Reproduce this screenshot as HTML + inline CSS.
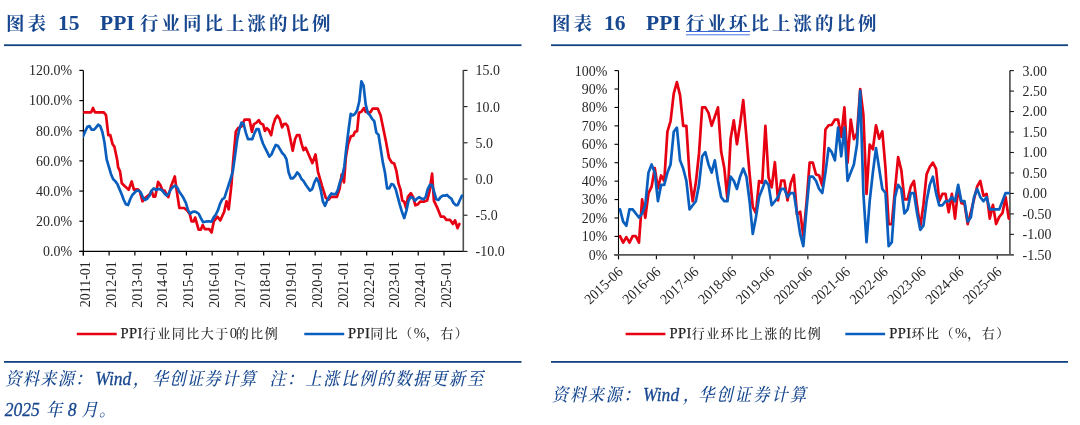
<!DOCTYPE html>
<html lang="zh-CN"><head><meta charset="utf-8"><title>PPI</title>
<style>
html,body{margin:0;padding:0;background:#fff;}
body{width:1080px;height:425px;overflow:hidden;position:relative;}
svg{position:absolute;left:0;top:0;display:block;will-change:transform;}
.ax{font-family:"Liberation Serif","Noto Serif CJK SC",serif;font-size:14.6px;fill:#262626;}
.lg{font-family:"Liberation Serif","Noto Serif CJK SC",serif;font-size:14.6px;fill:#262626;}
.lgp{letter-spacing:0.35px;stroke:#262626;stroke-width:0.25px;}
.lg0{font-size:14.6px;}
.lgc{font-family:"Liberation Serif","Noto Serif CJK SC",serif;font-size:13px;font-weight:500;letter-spacing:1.5px;}
.ti{font-family:"Liberation Serif","Noto Serif CJK SC",serif;font-weight:700;font-size:21.5px;fill:#17478f;}
.tic{font-family:"Liberation Serif","Noto Serif CJK SC",serif;font-weight:700;font-size:18.5px;fill:#17478f;letter-spacing:3px;}
.src{font-family:"Liberation Serif","Noto Serif CJK SC",serif;font-style:italic;font-size:19.5px;fill:#17478f;stroke:#17478f;stroke-width:0.3px;}
.srcc{font-family:"Liberation Serif","Noto Serif CJK SC",serif;font-style:italic;font-weight:500;font-size:18px;fill:#17478f;}
</style></head><body>
<svg width="1080" height="425" viewBox="0 0 1080 425">
<rect width="1080" height="425" fill="#fff"/>
<text class="tic" x="6" y="30">图表</text>
<text class="ti" x="58" y="30">15</text>
<text class="ti" x="100" y="30">PPI</text>
<text class="tic" x="140" y="30">行业同比上涨的比例</text>
<rect x="4" y="44.3" width="517.5" height="1.8" fill="#15437f"/>
<text class="tic" x="552" y="30">图表</text>
<text class="ti" x="604" y="30">16</text>
<text class="ti" x="646" y="30">PPI</text>
<text class="tic" x="686" y="30">行业环比上涨的比例</text>
<rect x="686" y="31" width="64" height="1" fill="#3565d8"/>
<rect x="686" y="34" width="64" height="1.4" fill="#7c9cec"/>
<rect x="551" y="44.3" width="517" height="1.8" fill="#15437f"/>
<g stroke="#000" stroke-width="1.2" fill="none">
<line x1="83.35" y1="70.40" x2="83.35" y2="255.40"/>
<line x1="79.35" y1="251.40" x2="463.80" y2="251.40"/>
<line x1="79.35" y1="251.40" x2="83.35" y2="251.40"/>
<line x1="79.35" y1="221.23" x2="83.35" y2="221.23"/>
<line x1="79.35" y1="191.07" x2="83.35" y2="191.07"/>
<line x1="79.35" y1="160.90" x2="83.35" y2="160.90"/>
<line x1="79.35" y1="130.73" x2="83.35" y2="130.73"/>
<line x1="79.35" y1="100.57" x2="83.35" y2="100.57"/>
<line x1="79.35" y1="70.40" x2="83.35" y2="70.40"/>
<line x1="83.35" y1="251.40" x2="83.35" y2="255.40"/>
<line x1="109.11" y1="251.40" x2="109.11" y2="255.40"/>
<line x1="134.87" y1="251.40" x2="134.87" y2="255.40"/>
<line x1="160.63" y1="251.40" x2="160.63" y2="255.40"/>
<line x1="186.39" y1="251.40" x2="186.39" y2="255.40"/>
<line x1="212.15" y1="251.40" x2="212.15" y2="255.40"/>
<line x1="237.91" y1="251.40" x2="237.91" y2="255.40"/>
<line x1="263.67" y1="251.40" x2="263.67" y2="255.40"/>
<line x1="289.42" y1="251.40" x2="289.42" y2="255.40"/>
<line x1="315.18" y1="251.40" x2="315.18" y2="255.40"/>
<line x1="340.94" y1="251.40" x2="340.94" y2="255.40"/>
<line x1="366.70" y1="251.40" x2="366.70" y2="255.40"/>
<line x1="392.46" y1="251.40" x2="392.46" y2="255.40"/>
<line x1="418.22" y1="251.40" x2="418.22" y2="255.40"/>
<line x1="443.98" y1="251.40" x2="443.98" y2="255.40"/>
</g>
<line x1="463.30" y1="69.90" x2="463.30" y2="251.40" stroke="#4d4d4d" stroke-width="1.6"/>
<g stroke="#1a1a1a" stroke-width="1.1" fill="none">
<line x1="463.80" y1="251.40" x2="467.50" y2="251.40"/>
<line x1="463.80" y1="215.20" x2="467.50" y2="215.20"/>
<line x1="463.80" y1="179.00" x2="467.50" y2="179.00"/>
<line x1="463.80" y1="142.80" x2="467.50" y2="142.80"/>
<line x1="463.80" y1="106.60" x2="467.50" y2="106.60"/>
<line x1="463.80" y1="70.40" x2="467.50" y2="70.40"/>
</g>
<text class="ax" transform="translate(72,256.30) scale(0.955,1)" text-anchor="end">0.0%</text>
<text class="ax" transform="translate(72,226.13) scale(0.955,1)" text-anchor="end">20.0%</text>
<text class="ax" transform="translate(72,195.97) scale(0.955,1)" text-anchor="end">40.0%</text>
<text class="ax" transform="translate(72,165.80) scale(0.955,1)" text-anchor="end">60.0%</text>
<text class="ax" transform="translate(72,135.63) scale(0.955,1)" text-anchor="end">80.0%</text>
<text class="ax" transform="translate(72,105.47) scale(0.955,1)" text-anchor="end">100.0%</text>
<text class="ax" transform="translate(72,75.30) scale(0.955,1)" text-anchor="end">120.0%</text>
<text class="ax" transform="translate(475.6,256.30) scale(0.955,1)">-10.0</text>
<text class="ax" transform="translate(475.6,220.10) scale(0.955,1)">-5.0</text>
<text class="ax" transform="translate(475.6,183.90) scale(0.955,1)">0.0</text>
<text class="ax" transform="translate(475.6,147.70) scale(0.955,1)">5.0</text>
<text class="ax" transform="translate(475.6,111.50) scale(0.955,1)">10.0</text>
<text class="ax" transform="translate(475.6,75.30) scale(0.955,1)">15.0</text>
<text class="ax" transform="translate(90.15,261.20) rotate(-90) scale(0.955,1)" text-anchor="end">2011-01</text>
<text class="ax" transform="translate(115.91,261.20) rotate(-90) scale(0.955,1)" text-anchor="end">2012-01</text>
<text class="ax" transform="translate(141.67,261.20) rotate(-90) scale(0.955,1)" text-anchor="end">2013-01</text>
<text class="ax" transform="translate(167.43,261.20) rotate(-90) scale(0.955,1)" text-anchor="end">2014-01</text>
<text class="ax" transform="translate(193.19,261.20) rotate(-90) scale(0.955,1)" text-anchor="end">2015-01</text>
<text class="ax" transform="translate(218.95,261.20) rotate(-90) scale(0.955,1)" text-anchor="end">2016-01</text>
<text class="ax" transform="translate(244.71,261.20) rotate(-90) scale(0.955,1)" text-anchor="end">2017-01</text>
<text class="ax" transform="translate(270.47,261.20) rotate(-90) scale(0.955,1)" text-anchor="end">2018-01</text>
<text class="ax" transform="translate(296.22,261.20) rotate(-90) scale(0.955,1)" text-anchor="end">2019-01</text>
<text class="ax" transform="translate(321.98,261.20) rotate(-90) scale(0.955,1)" text-anchor="end">2020-01</text>
<text class="ax" transform="translate(347.74,261.20) rotate(-90) scale(0.955,1)" text-anchor="end">2021-01</text>
<text class="ax" transform="translate(373.50,261.20) rotate(-90) scale(0.955,1)" text-anchor="end">2022-01</text>
<text class="ax" transform="translate(399.26,261.20) rotate(-90) scale(0.955,1)" text-anchor="end">2023-01</text>
<text class="ax" transform="translate(425.02,261.20) rotate(-90) scale(0.955,1)" text-anchor="end">2024-01</text>
<text class="ax" transform="translate(450.78,261.20) rotate(-90) scale(0.955,1)" text-anchor="end">2025-01</text>
<clipPath id="cl"><rect x="83.05" y="60" width="380.75" height="195"/></clipPath><g clip-path="url(#cl)">
<polyline points="84.20,112.30 91.20,112.30 93.00,108.00 94.90,112.30 103.80,112.30 106.00,115.10 108.30,135.20 110.30,135.20 112.50,143.90 114.40,146.70 117.20,160.00 118.10,167.10 120.00,171.20 121.80,183.20 124.60,186.00 128.70,189.70 131.70,181.40 133.90,189.70 138.00,189.40 139.90,191.60 142.50,201.30 145.00,198.10 149.70,194.40 151.60,190.70 153.40,196.60 155.30,196.60 158.10,181.90 160.30,185.10 162.70,190.70 164.60,190.70 168.30,197.20 171.10,186.00 174.80,176.40 176.70,190.70 179.40,208.00 184.10,208.00 186.90,210.20 189.70,213.90 191.50,221.30 193.80,221.30 195.20,217.60 198.60,229.70 200.80,229.70 202.70,225.10 204.90,229.10 209.20,229.10 211.60,232.50 213.80,221.30 217.50,216.70 220.30,220.40 224.10,212.00 226.50,201.30 228.70,209.30 231.50,184.20 233.00,163.00 235.80,131.80 238.00,128.10 241.70,126.20 244.50,119.70 249.50,119.70 251.90,131.80 253.80,124.40 256.60,122.50 258.80,120.10 260.70,123.50 263.10,124.40 264.90,130.90 266.80,128.10 268.70,130.00 271.10,135.20 273.10,125.40 275.20,118.90 277.40,115.60 279.70,118.90 282.10,127.30 283.90,124.10 285.80,123.70 287.70,126.30 290.10,137.50 292.70,150.80 295.10,139.00 297.00,135.20 299.40,135.20 301.60,143.90 303.50,150.10 305.70,147.70 308.10,153.20 312.40,163.10 315.50,154.50 318.00,171.80 322.00,185.80 325.80,197.80 328.60,199.70 331.00,196.90 336.90,196.90 339.70,188.60 341.60,174.60 344.00,182.40 345.80,157.90 348.10,144.00 350.90,136.30 353.30,135.60 355.00,131.70 357.10,131.10 358.90,112.80 361.40,111.80 363.90,108.10 365.70,111.80 370.40,112.40 372.60,108.70 377.80,108.70 380.60,115.60 386.10,142.20 389.00,157.90 391.70,162.50 394.20,163.50 396.40,170.90 398.60,183.90 400.50,189.50 402.30,200.60 404.20,201.60 406.10,208.10 407.90,196.90 410.90,193.20 413.10,196.90 415.40,205.30 417.80,204.30 420.20,201.60 424.30,201.60 427.10,200.60 429.50,191.30 432.10,173.70 433.90,200.60 437.10,207.30 440.80,216.60 443.90,216.60 446.40,219.90 450.10,219.90 452.90,224.00 455.10,220.30 457.50,228.10 459.40,224.00" fill="none" stroke="#e60012" stroke-width="2.7" stroke-linejoin="round" stroke-linecap="round"/>
<polyline points="83.12,136.28 85.26,131.22 87.40,126.87 89.54,126.15 91.68,129.77 93.82,129.77 95.96,127.60 98.10,124.70 100.24,126.15 102.39,131.94 104.53,142.80 106.67,159.45 108.81,166.69 110.95,173.93 113.09,179.00 115.23,181.17 117.37,184.07 119.51,189.14 121.65,194.20 123.79,200.00 125.93,204.34 128.07,205.06 130.21,199.27 132.36,194.93 134.50,192.76 136.64,190.58 138.78,190.58 140.92,192.76 143.06,197.82 145.20,200.00 147.34,198.55 149.48,195.65 151.62,190.58 153.76,188.41 155.90,189.86 158.04,189.14 160.18,189.14 162.33,190.58 164.47,193.48 166.61,195.65 168.75,193.48 170.89,189.14 173.03,186.96 175.17,185.52 177.31,187.69 179.45,192.03 181.59,194.93 183.73,198.55 185.87,202.89 188.01,210.13 190.15,213.75 192.30,211.94 194.44,211.58 196.58,212.30 198.72,213.75 200.86,218.10 203.00,222.08 205.14,221.72 207.28,221.35 209.42,221.35 211.56,221.72 213.70,217.37 215.84,214.48 217.98,210.13 220.12,203.62 222.26,199.27 224.41,197.82 226.55,191.31 228.69,184.79 230.83,178.28 232.97,170.31 235.11,155.11 237.25,139.18 239.39,129.04 241.53,122.53 243.67,123.98 245.81,132.66 247.95,139.18 250.09,139.18 252.23,139.18 254.38,133.39 256.52,129.04 258.66,129.04 260.80,137.01 262.94,143.52 265.08,147.87 267.22,152.21 269.36,156.56 271.50,154.38 273.64,149.32 275.78,144.97 277.92,145.70 280.06,149.32 282.20,152.94 284.35,155.11 286.49,159.45 288.63,172.48 290.77,178.28 292.91,178.28 295.05,176.10 297.19,172.48 299.33,174.66 301.47,179.00 303.61,181.17 305.75,184.79 307.89,187.69 310.03,190.58 312.17,189.14 314.31,182.62 316.46,178.28 318.60,181.90 320.74,189.86 322.88,201.44 325.02,205.79 327.16,200.72 329.30,196.38 331.44,193.48 333.58,194.20 335.72,194.20 337.86,189.86 340.00,181.90 342.14,176.83 344.28,166.69 346.43,147.14 348.57,129.77 350.71,113.84 352.85,115.29 354.99,113.84 357.13,110.22 359.27,101.53 361.41,81.26 363.55,85.60 365.69,104.43 367.83,113.12 369.97,115.29 372.11,118.91 374.25,121.08 376.40,132.66 378.54,134.84 380.68,148.59 382.82,162.35 384.96,172.48 387.10,188.41 389.24,188.41 391.38,184.07 393.52,184.79 395.66,189.14 397.80,197.10 399.94,205.06 402.08,212.30 404.22,218.10 406.36,210.86 408.51,200.72 410.65,197.10 412.79,197.82 414.93,200.72 417.07,198.55 419.21,197.10 421.35,198.55 423.49,199.27 425.63,197.10 427.77,189.14 429.91,184.79 432.05,184.79 434.19,192.03 436.33,199.27 438.48,200.00 440.62,197.10 442.76,195.65 444.90,195.65 447.04,194.93 449.18,197.10 451.32,198.55 453.46,202.89 455.60,205.06 457.74,205.06 459.88,200.00 462.02,195.65" fill="none" stroke="#0a5fbe" stroke-width="2.7" stroke-linejoin="round" stroke-linecap="round"/>
</g>
<line x1="76.8" y1="334" x2="116.7" y2="334" stroke="#e60012" stroke-width="2.7"/>
<text class="lg" x="120.5" y="338.3"><tspan class="lgp">PPI</tspan><tspan class="lgc">行业同比大</tspan><tspan class="lgc" letter-spacing="0.2">于</tspan><tspan class="lg0">0</tspan><tspan class="lgc" dx="-1.2">的比例</tspan></text>
<line x1="304.3" y1="334" x2="344.2" y2="334" stroke="#0a5fbe" stroke-width="2.7"/>
<text class="lg" x="348" y="338.3"><tspan class="lgp">PPI</tspan><tspan class="lgc">同比（</tspan>%<tspan class="lgc">，右）</tspan></text>
<rect x="4" y="361" width="517.5" height="1.8" fill="#15437f"/>
<text class="srcc" transform="translate(5.20,385.00) scale(0.9,1)" letter-spacing="1.50">资料来源：</text>
<text class="src" transform="translate(95.30,385.00) scale(0.9,1)">Wind</text>
<text class="srcc" transform="translate(133.00,385.00) scale(0.9,1)" letter-spacing="0.00">，</text>
<text class="srcc" transform="translate(152.00,385.00) scale(0.9,1)" letter-spacing="1.50">华创证券计算</text>
<text class="srcc" transform="translate(269.50,385.00) scale(0.9,1)" letter-spacing="1.50">注：</text>
<text class="srcc" transform="translate(305.20,385.00) scale(0.9,1)" letter-spacing="2.00">上涨比例的数据更新至</text>
<text class="src" transform="translate(4.80,416.00) scale(0.9,1)">2025</text>
<text class="srcc" transform="translate(46.00,416.00) scale(0.9,1)" letter-spacing="0.00">年</text>
<text class="src" transform="translate(67.80,416.00) scale(0.9,1)">8</text>
<text class="srcc" transform="translate(81.50,416.00) scale(0.9,1)" letter-spacing="1.50">月。</text>
<g stroke="#000" stroke-width="1.1" fill="none">
<line x1="618.50" y1="70.60" x2="618.50" y2="259.25"/>
<line x1="614.50" y1="254.85" x2="618.50" y2="254.85"/>
<line x1="614.50" y1="236.42" x2="618.50" y2="236.42"/>
<line x1="614.50" y1="218.00" x2="618.50" y2="218.00"/>
<line x1="614.50" y1="199.57" x2="618.50" y2="199.57"/>
<line x1="614.50" y1="181.15" x2="618.50" y2="181.15"/>
<line x1="614.50" y1="162.72" x2="618.50" y2="162.72"/>
<line x1="614.50" y1="144.30" x2="618.50" y2="144.30"/>
<line x1="614.50" y1="125.88" x2="618.50" y2="125.88"/>
<line x1="614.50" y1="107.45" x2="618.50" y2="107.45"/>
<line x1="614.50" y1="89.03" x2="618.50" y2="89.03"/>
<line x1="614.50" y1="70.60" x2="618.50" y2="70.60"/>
<line x1="618.50" y1="254.85" x2="618.50" y2="259.25"/>
<line x1="656.38" y1="254.85" x2="656.38" y2="259.25"/>
<line x1="694.25" y1="254.85" x2="694.25" y2="259.25"/>
<line x1="732.13" y1="254.85" x2="732.13" y2="259.25"/>
<line x1="770.01" y1="254.85" x2="770.01" y2="259.25"/>
<line x1="807.89" y1="254.85" x2="807.89" y2="259.25"/>
<line x1="845.76" y1="254.85" x2="845.76" y2="259.25"/>
<line x1="883.64" y1="254.85" x2="883.64" y2="259.25"/>
<line x1="921.52" y1="254.85" x2="921.52" y2="259.25"/>
<line x1="959.40" y1="254.85" x2="959.40" y2="259.25"/>
<line x1="997.27" y1="254.85" x2="997.27" y2="259.25"/>
</g>
<g stroke="#555555" stroke-width="1.7" fill="none">
<line x1="614.30" y1="254.85" x2="1013.90" y2="254.85"/>
<line x1="1009.90" y1="70.60" x2="1009.90" y2="254.85"/>
</g>
<g stroke="#1a1a1a" stroke-width="1.1" fill="none">
<line x1="1009.90" y1="234.38" x2="1013.90" y2="234.38"/>
<line x1="1009.90" y1="213.91" x2="1013.90" y2="213.91"/>
<line x1="1009.90" y1="193.43" x2="1013.90" y2="193.43"/>
<line x1="1009.90" y1="172.96" x2="1013.90" y2="172.96"/>
<line x1="1009.90" y1="152.49" x2="1013.90" y2="152.49"/>
<line x1="1009.90" y1="132.02" x2="1013.90" y2="132.02"/>
<line x1="1009.90" y1="111.54" x2="1013.90" y2="111.54"/>
<line x1="1009.90" y1="91.07" x2="1013.90" y2="91.07"/>
<line x1="1009.90" y1="70.60" x2="1013.90" y2="70.60"/>
</g>
<text class="ax" transform="translate(607.3,259.75) scale(0.955,1)" text-anchor="end">0%</text>
<text class="ax" transform="translate(607.3,241.32) scale(0.955,1)" text-anchor="end">10%</text>
<text class="ax" transform="translate(607.3,222.90) scale(0.955,1)" text-anchor="end">20%</text>
<text class="ax" transform="translate(607.3,204.47) scale(0.955,1)" text-anchor="end">30%</text>
<text class="ax" transform="translate(607.3,186.05) scale(0.955,1)" text-anchor="end">40%</text>
<text class="ax" transform="translate(607.3,167.62) scale(0.955,1)" text-anchor="end">50%</text>
<text class="ax" transform="translate(607.3,149.20) scale(0.955,1)" text-anchor="end">60%</text>
<text class="ax" transform="translate(607.3,130.78) scale(0.955,1)" text-anchor="end">70%</text>
<text class="ax" transform="translate(607.3,112.35) scale(0.955,1)" text-anchor="end">80%</text>
<text class="ax" transform="translate(607.3,93.93) scale(0.955,1)" text-anchor="end">90%</text>
<text class="ax" transform="translate(607.3,75.50) scale(0.955,1)" text-anchor="end">100%</text>
<text class="ax" transform="translate(1022.5,259.75) scale(0.955,1)">-1.50</text>
<text class="ax" transform="translate(1022.5,239.28) scale(0.955,1)">-1.00</text>
<text class="ax" transform="translate(1022.5,218.81) scale(0.955,1)">-0.50</text>
<text class="ax" transform="translate(1022.5,198.33) scale(0.955,1)">0.00</text>
<text class="ax" transform="translate(1022.5,177.86) scale(0.955,1)">0.50</text>
<text class="ax" transform="translate(1022.5,157.39) scale(0.955,1)">1.00</text>
<text class="ax" transform="translate(1022.5,136.92) scale(0.955,1)">1.50</text>
<text class="ax" transform="translate(1022.5,116.44) scale(0.955,1)">2.00</text>
<text class="ax" transform="translate(1022.5,95.97) scale(0.955,1)">2.50</text>
<text class="ax" transform="translate(1022.5,75.50) scale(0.955,1)">3.00</text>
<text class="ax" transform="translate(623.70,273.00) rotate(-43.5) scale(0.955,1)" text-anchor="end">2015-06</text>
<text class="ax" transform="translate(661.58,273.00) rotate(-43.5) scale(0.955,1)" text-anchor="end">2016-06</text>
<text class="ax" transform="translate(699.45,273.00) rotate(-43.5) scale(0.955,1)" text-anchor="end">2017-06</text>
<text class="ax" transform="translate(737.33,273.00) rotate(-43.5) scale(0.955,1)" text-anchor="end">2018-06</text>
<text class="ax" transform="translate(775.21,273.00) rotate(-43.5) scale(0.955,1)" text-anchor="end">2019-06</text>
<text class="ax" transform="translate(813.09,273.00) rotate(-43.5) scale(0.955,1)" text-anchor="end">2020-06</text>
<text class="ax" transform="translate(850.96,273.00) rotate(-43.5) scale(0.955,1)" text-anchor="end">2021-06</text>
<text class="ax" transform="translate(888.84,273.00) rotate(-43.5) scale(0.955,1)" text-anchor="end">2022-06</text>
<text class="ax" transform="translate(926.72,273.00) rotate(-43.5) scale(0.955,1)" text-anchor="end">2023-06</text>
<text class="ax" transform="translate(964.60,273.00) rotate(-43.5) scale(0.955,1)" text-anchor="end">2024-06</text>
<text class="ax" transform="translate(1002.47,273.00) rotate(-43.5) scale(0.955,1)" text-anchor="end">2025-06</text>
<polyline points="620.00,236.20 623.16,242.64 626.32,237.12 629.48,242.64 632.64,236.20 635.80,236.20 638.96,242.64 642.12,199.40 645.28,217.80 648.45,193.33 651.61,186.70 654.77,168.12 657.93,188.36 661.09,175.48 664.25,181.00 667.41,131.69 670.57,121.20 673.73,93.60 676.89,82.10 680.05,95.07 683.21,125.80 686.37,125.80 689.53,175.48 692.69,201.24 695.85,182.84 699.01,153.40 702.18,107.40 705.34,107.40 708.50,112.92 711.66,125.80 714.82,116.60 717.98,107.40 721.14,151.56 724.30,168.12 727.46,199.40 730.62,138.68 733.78,120.28 736.94,144.20 740.10,123.96 743.26,100.04 746.42,136.84 749.58,173.64 752.75,206.76 755.91,213.20 759.07,181.00 762.23,182.84 765.39,125.80 768.55,177.32 771.71,187.26 774.87,162.23 778.03,200.50 781.19,180.63 784.35,180.63 787.51,200.50 790.67,183.39 793.83,174.93 796.99,214.49 800.15,211.73 803.31,236.20 806.48,203.08 809.64,162.60 812.80,162.60 815.96,174.38 819.12,175.48 822.28,185.60 825.44,129.48 828.60,125.25 831.76,124.88 834.92,119.54 838.08,119.54 841.24,136.84 844.40,107.40 847.56,162.60 850.72,119.54 853.88,139.05 857.05,133.16 860.21,89.00 863.37,114.76 866.53,193.88 869.69,144.57 872.85,149.35 876.01,125.25 879.17,138.68 882.33,131.32 885.49,168.12 888.65,224.06 891.81,224.06 894.97,190.20 898.13,157.08 901.29,169.96 904.45,199.40 907.61,199.40 910.78,186.52 913.94,181.00 917.10,205.66 920.26,227.00 923.42,204.92 926.58,174.38 929.74,167.02 932.90,162.60 936.06,168.86 939.22,201.24 942.38,193.88 945.54,193.88 948.70,212.28 951.86,193.88 955.02,218.54 958.18,188.36 961.34,203.08 964.51,203.82 967.67,224.06 970.83,212.28 973.99,199.40 977.15,186.52 980.31,181.00 983.47,195.72 986.63,193.88 989.79,218.54 992.95,204.92 996.11,224.06 999.27,216.88 1002.43,213.20 1005.59,197.01 1008.75,218.54" fill="none" stroke="#e60012" stroke-width="2.7" stroke-linejoin="round" stroke-linecap="round"/>
<polyline points="620.00,209.38 623.16,221.63 626.32,225.71 629.48,209.38 632.64,209.38 635.80,213.46 638.96,217.54 642.12,213.46 645.28,205.29 648.45,172.62 651.61,164.45 654.77,172.62 657.93,201.21 661.09,184.87 664.25,184.87 667.41,172.62 670.57,164.45 673.73,131.78 676.89,127.70 680.05,160.37 683.21,168.54 686.37,180.79 689.53,209.38 692.69,205.29 695.85,201.21 699.01,184.87 702.18,156.28 705.34,152.20 708.50,164.45 711.66,172.62 714.82,160.37 717.98,180.79 721.14,197.12 724.30,201.21 727.46,201.21 730.62,176.70 733.78,180.79 736.94,188.96 740.10,176.70 743.26,168.54 746.42,176.70 749.58,201.21 752.75,233.88 755.91,217.54 759.07,197.12 762.23,188.96 765.39,180.79 768.55,184.87 771.71,205.29 774.87,201.21 778.03,197.12 781.19,188.96 784.35,188.96 787.51,197.12 790.67,193.04 793.83,193.04 796.99,213.46 800.15,233.88 803.31,246.13 806.48,209.38 809.64,176.70 812.80,176.70 815.96,180.79 819.12,188.96 822.28,193.04 825.44,172.62 828.60,148.12 831.76,152.20 834.92,160.37 838.08,127.70 841.24,156.28 844.40,127.70 847.56,180.79 850.72,172.62 853.88,164.45 857.05,144.03 860.21,90.94 863.37,193.04 866.53,242.05 869.69,201.21 872.85,172.62 876.01,148.12 879.17,168.54 882.33,188.96 885.49,193.04 888.65,246.13 891.81,242.05 894.97,197.12 898.13,184.87 901.29,188.96 904.45,213.46 907.61,209.38 910.78,193.04 913.94,193.04 917.10,213.46 920.26,229.80 923.42,225.71 926.58,201.21 929.74,184.87 932.90,176.70 936.06,193.04 939.22,205.29 942.38,205.29 945.54,201.21 948.70,201.21 951.86,197.12 955.02,201.21 958.18,184.87 961.34,201.21 964.51,201.21 967.67,221.63 970.83,217.54 973.99,197.12 977.15,188.96 980.31,197.12 983.47,201.21 986.63,197.12 989.79,209.38 992.95,209.38 996.11,209.38 999.27,209.38 1002.43,201.21 1005.59,193.04 1008.75,193.04" fill="none" stroke="#0a5fbe" stroke-width="2.7" stroke-linejoin="round" stroke-linecap="round"/>
<line x1="625.6" y1="334" x2="665.4" y2="334" stroke="#e60012" stroke-width="2.7"/>
<text class="lg" x="669.5" y="338.3"><tspan class="lgp">PPI</tspan><tspan class="lgc">行业环比上涨的比例</tspan></text>
<line x1="845.3" y1="334" x2="885.1" y2="334" stroke="#0a5fbe" stroke-width="2.7"/>
<text class="lg" x="889.3" y="338.3"><tspan class="lgp">PPI</tspan><tspan class="lgc">环比（</tspan>%<tspan class="lgc">，右）</tspan></text>
<rect x="551" y="361" width="517" height="1.8" fill="#15437f"/>
<text class="srcc" transform="translate(552.00,401.00) scale(0.9,1)" letter-spacing="1.89">资料来源：</text>
<text class="src" transform="translate(643.10,401.00) scale(0.9,1)">Wind</text>
<text class="srcc" transform="translate(683.00,401.00) scale(0.9,1)" letter-spacing="0.00">，</text>
<text class="srcc" transform="translate(698.20,401.00) scale(0.9,1)" letter-spacing="2.39">华创证券计算</text>
</svg></body></html>
